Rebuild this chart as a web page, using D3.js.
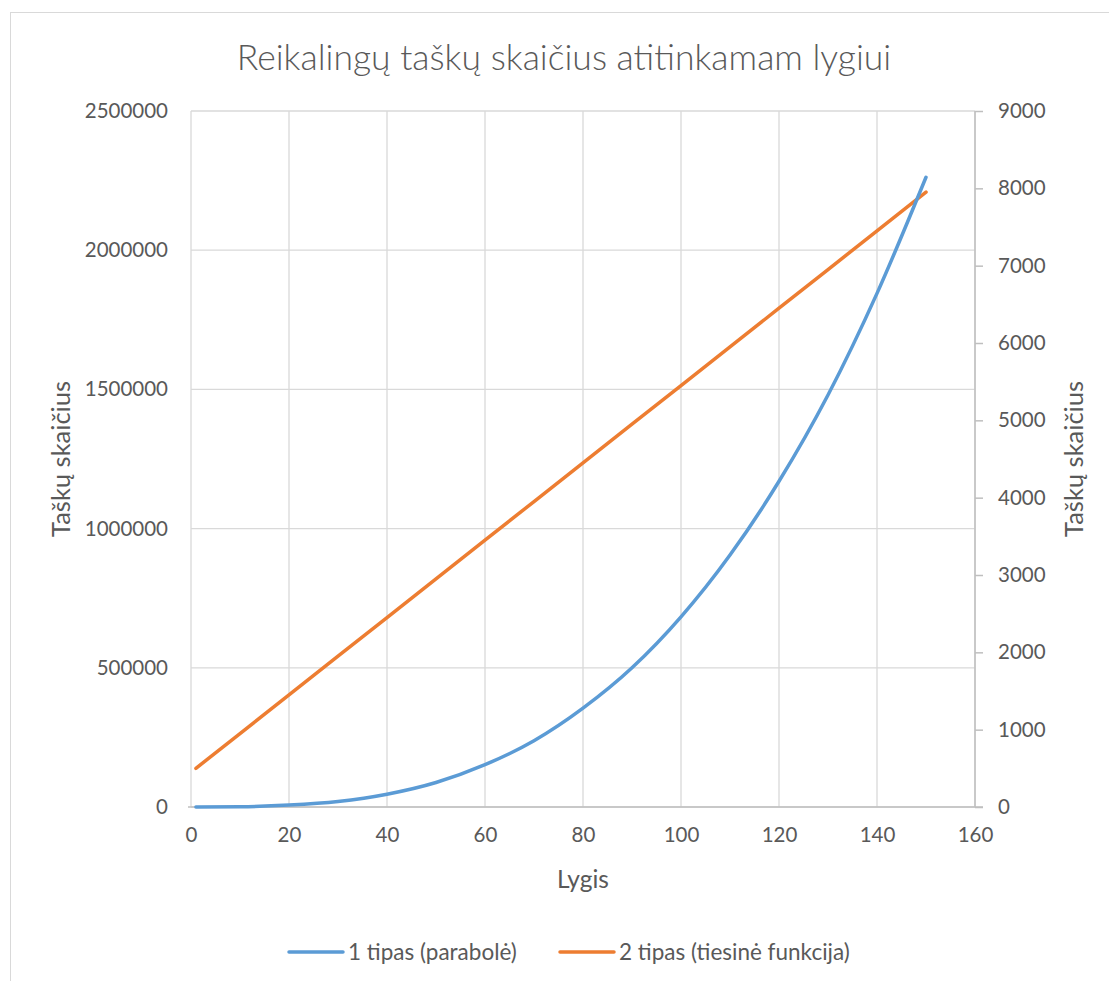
<!DOCTYPE html>
<html>
<head>
<meta charset="utf-8">
<script src="https://cdn.jsdelivr.net/npm/d3@7"></script>
<style>
  body { margin: 0; background: #fff; }
  text { font-family: Lato, "Open Sans", sans-serif; fill: #595959; }
</style>
</head>
<body>
<svg id="chart" width="1109" height="981"></svg>
<script>
// levels
var levels = [1, 10, 20, 30, 40, 50, 60, 70, 80, 90, 100, 110, 120, 130, 140, 150];
// 1 tipas (parabole) - left axis
var type1 = [0, 1000, 7000, 20000, 46000, 88000, 152000, 238000, 355000, 500000,
             683000, 905000, 1170000, 1480000, 1845000, 2262000];
// 2 tipas (tiesine funkcija) - right axis
var type2 = [500, 950, 1450, 1950, 2450, 2950, 3450, 3950, 4450, 4950,
             5450, 5950, 6450, 6950, 7450, 7950];

var xTicks = [0, 20, 40, 60, 80, 100, 120, 140, 160];
var leftTicks = [0, 500000, 1000000, 1500000, 2000000, 2500000];
var rightTicks = [0, 1000, 2000, 3000, 4000, 5000, 6000, 7000, 8000, 9000];

var title = "Reikalingų taškų skaičius atitinkamam lygiui";
var yTitle = "Taškų skaičius";
var xTitle = "Lygis";
var seriesNames = ["1 tipas (parabolė)", "2 tipas (tiesinė funkcija)"];
var colors = ["#5B9BD5", "#ED7D31"];

var svg = d3.select("#chart");
var plotLeft = 191, plotRight = 975, plotTop = 111, plotBottom = 807;

var x = d3.scaleLinear().domain([0, 160]).range([plotLeft, plotRight]);
var yL = d3.scaleLinear().domain([0, 2500000]).range([plotBottom, plotTop]);
var yR = d3.scaleLinear().domain([0, 9000]).range([plotBottom, plotTop]);

// chart border
svg.append("rect")
  .attr("x", 10.5).attr("y", 12.5)
  .attr("width", 1120).attr("height", 1000)
  .attr("fill", "none").attr("stroke", "#D9D9D9");

// title
svg.append("text")
  .attr("x", 564).attr("y", 70)
  .attr("text-anchor", "middle")
  .style("font-size", "35.5px")
  .style("font-weight", 300)
  .text(title);

// gridlines
var grid = svg.append("g").attr("stroke", "#D9D9D9").attr("stroke-width", 1.3);
grid.selectAll(".gx").data(xTicks).enter().append("line")
  .attr("x1", function(d) { return x(d); }).attr("x2", function(d) { return x(d); })
  .attr("y1", plotTop).attr("y2", plotBottom);
grid.selectAll(".gy").data(leftTicks).enter().append("line")
  .attr("x1", plotLeft).attr("x2", plotRight)
  .attr("y1", function(d) { return yL(d); }).attr("y2", function(d) { return yL(d); });

// axes
var xAxis = svg.append("g")
  .attr("transform", "translate(0," + plotBottom + ")")
  .call(d3.axisBottom(x).tickValues(xTicks).tickSize(0).tickPadding(20));
var leftAxis = svg.append("g")
  .attr("transform", "translate(" + plotLeft + ",0)")
  .call(d3.axisLeft(yL).tickValues(leftTicks).tickSize(0).tickPadding(23)
    .tickFormat(d3.format("d")));
var rightAxis = svg.append("g")
  .attr("transform", "translate(" + plotRight + ",0)")
  .call(d3.axisRight(yR).tickValues(rightTicks).tickSize(8).tickPadding(15)
    .tickFormat(d3.format("d")));

[xAxis, leftAxis, rightAxis].forEach(function(a) {
  a.selectAll("text").style("font-size", "20.5px").attr("fill", "#595959")
    .style("font-family", "Lato, sans-serif");
});
leftAxis.select(".domain").remove();
xAxis.select(".domain").attr("d", "M" + (plotLeft - 3) + ",0H" + (plotRight + 8))
  .attr("stroke", "#BFBFBF").attr("stroke-width", 1.5);
rightAxis.select(".domain").attr("d", "M0," + plotTop + "V" + plotBottom)
  .attr("stroke", "#BFBFBF").attr("stroke-width", 1.5);
rightAxis.selectAll(".tick line").attr("stroke", "#BFBFBF").attr("stroke-width", 1.5);

// axis titles
svg.append("text")
  .attr("transform", "translate(70,459) rotate(-90)")
  .attr("text-anchor", "middle")
  .style("font-size", "25.5px")
  .text(yTitle);
svg.append("text")
  .attr("transform", "translate(1083,459) rotate(-90)")
  .attr("text-anchor", "middle")
  .style("font-size", "25.5px")
  .text(yTitle);
svg.append("text")
  .attr("x", 583).attr("y", 888)
  .attr("text-anchor", "middle")
  .style("font-size", "24.5px")
  .text(xTitle);

// series
var line1 = d3.line()
  .x(function(d, i) { return x(levels[i]); })
  .y(function(d) { return yL(d); })
  .curve(d3.curveMonotoneX);
var line2 = d3.line()
  .x(function(d, i) { return x(levels[i]); })
  .y(function(d) { return yR(d); });

svg.append("path").datum(type2)
  .attr("d", line2)
  .attr("fill", "none").attr("stroke", colors[1])
  .attr("stroke-width", 3.5).attr("stroke-linecap", "round");
svg.append("path").datum(type1)
  .attr("d", line1)
  .attr("fill", "none").attr("stroke", colors[0])
  .attr("stroke-width", 3.5).attr("stroke-linecap", "round");

// legend
var legendX = [289, 560];
var lg = svg.selectAll(".legend").data(seriesNames).enter().append("g")
  .attr("transform", function(d, i) { return "translate(" + legendX[i] + ",952)"; });
lg.append("line")
  .attr("x1", 0).attr("x2", 54).attr("y1", 0).attr("y2", 0)
  .attr("stroke", function(d, i) { return colors[i]; })
  .attr("stroke-width", 3.5).attr("stroke-linecap", "round");
lg.append("text")
  .attr("x", 59).attr("y", 8)
  .style("font-size", "22.5px")
  .text(function(d) { return d; });
</script>
</body>
</html>
